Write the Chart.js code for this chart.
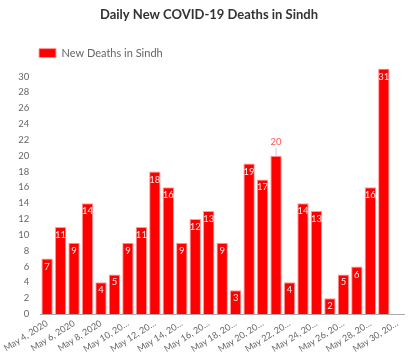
<!DOCTYPE html>
<html>
<head>
<meta charset="utf-8">
<script src="https://cdn.jsdelivr.net/npm/chart.js@4/dist/chart.umd.min.js"></script>
<style>
  html, body { margin: 0; padding: 0; background: #fff; }
  #wrap { width: 414px; height: 352px; }
</style>
</head>
<body>
<div id="wrap"><canvas id="myChart"></canvas></div>
<script>
const dates = ["May 4, 2020", "May 5, 2020", "May 6, 2020", "May 7, 2020", "May 8, 2020",
  "May 9, 2020", "May 10, 2020", "May 11, 2020", "May 12, 2020", "May 13, 2020",
  "May 14, 2020", "May 15, 2020", "May 16, 2020", "May 17, 2020", "May 18, 2020",
  "May 19, 2020", "May 20, 2020", "May 21, 2020", "May 22, 2020", "May 23, 2020",
  "May 24, 2020", "May 25, 2020", "May 26, 2020", "May 27, 2020", "May 28, 2020",
  "May 29, 2020", "May 30, 2020"];
const deaths = [7, 11, 9, 14, 4, 5, 9, 11, 18, 16, 9, 12, 13, 9, 3, 19, 17, 20, 4, 14,
  13, 2, 5, 6, 16, 31, null];
// the one label that sits above its bar in the picture
const outsideLabels = [17];

const fontFamily = "Lato, 'Open Sans', sans-serif";

const barLabels = {
  id: 'barLabels',
  afterDatasetsDraw(chart) {
    const ctx = chart.ctx;
    const meta = chart.getDatasetMeta(0);
    ctx.save();
    ctx.font = "9.5px " + fontFamily;
    ctx.textAlign = 'center';
    ctx.textBaseline = 'middle';
    meta.data.forEach(function (bar, i) {
      const v = deaths[i];
      if (v === null) return;
      if (outsideLabels.includes(i)) {
        ctx.strokeStyle = '#cccccc';
        ctx.lineWidth = 1;
        ctx.beginPath();
        ctx.moveTo(bar.x, bar.y);
        ctx.lineTo(bar.x, bar.y - 8);
        ctx.stroke();
        ctx.fillStyle = '#ff5555';
        ctx.fillText(v, bar.x, bar.y - 14);
      } else {
        ctx.fillStyle = 'rgba(255,255,255,0.9)';
        ctx.fillText(v, bar.x, bar.y + 8);
      }
    });
    ctx.restore();
  }
};

const chart = new Chart("myChart", {
  type: "bar",
  data: {
    labels: dates,
    datasets: [{
      label: "New Deaths in Sindh",
      data: deaths,
      backgroundColor: "#ff0000",
      borderColor: "#ff9a9a",
      borderWidth: 1,
      categoryPercentage: 0.9,
      barPercentage: 0.94
    }]
  },
  options: {
    responsive: true,
    maintainAspectRatio: false,
    animation: false,
    layout: { padding: { left: 14, right: 10, bottom: 0 } },
    plugins: {
      title: {
        display: true,
        text: "Daily New COVID-19 Deaths in Sindh",
        color: "#333",
        font: { family: fontFamily, size: 13, weight: "bold" },
        padding: { top: 7, bottom: 0 }
      },
      legend: {
        align: "start",
        labels: {
          color: "#666",
          boxWidth: 17,
          boxHeight: 9,
          padding: 25,
          font: { family: fontFamily, size: 11 }
        }
      },
      tooltip: { enabled: false }
    },
    scales: {
      x: {
        grid: { display: false, drawTicks: false },
        border: { display: true, color: "#aaaaaa" },
        afterFit: function (scale) { scale.height = 38; },
        ticks: {
          color: "#666",
          font: { family: fontFamily, size: 9 },
          padding: 4,
          minRotation: 32,
          maxRotation: 32,
          autoSkip: false,
          callback: function (value) {
            if (value % 2 === 1) return "";
            const s = dates[value];
            return s.length > 11 ? s.slice(0, 10) + "…" : s;
          }
        }
      },
      y: {
        min: 0,
        max: 31,
        grid: { display: false },
        border: { display: false },
        ticks: {
          stepSize: 2,
          includeBounds: false,
          color: "#666",
          font: { family: fontFamily, size: 9.5 }
        }
      }
    }
  },
  plugins: [barLabels]
});
</script>
</body>
</html>
